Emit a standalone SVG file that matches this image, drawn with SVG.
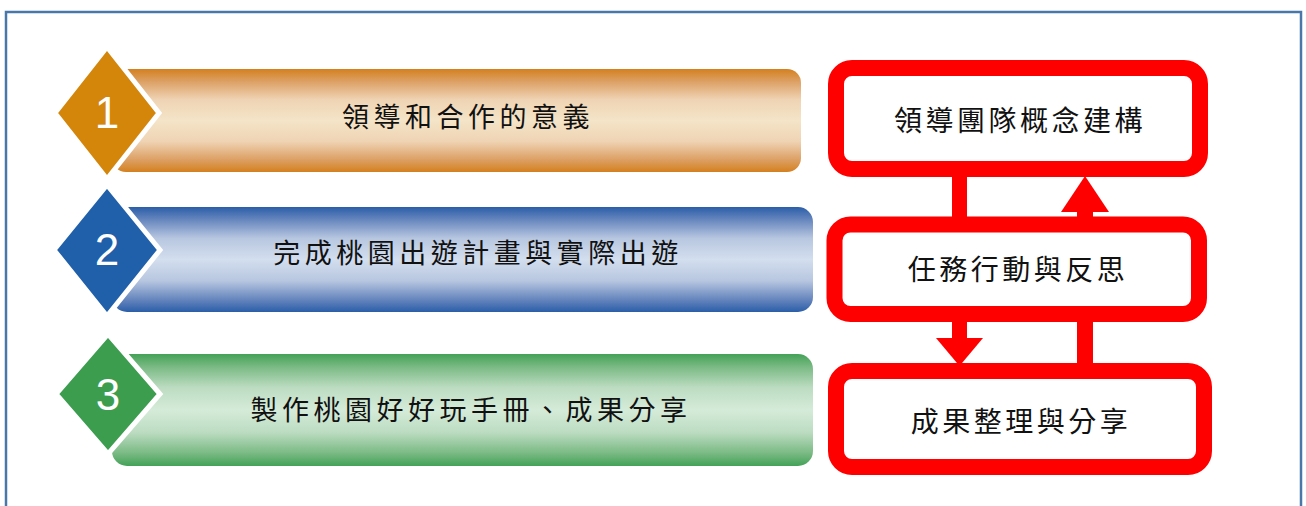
<svg xmlns="http://www.w3.org/2000/svg" width="1306" height="506" viewBox="0 0 1306 506">
<defs>
<linearGradient id="gO" x1="0" y1="0" x2="0" y2="1">
<stop offset="0" stop-color="#d4801f"/><stop offset="0.12" stop-color="#dca064"/><stop offset="0.3" stop-color="#efd4b4"/><stop offset="0.5" stop-color="#f4e4c8"/><stop offset="0.7" stop-color="#efd4b4"/><stop offset="0.88" stop-color="#dca064"/><stop offset="1" stop-color="#d4801f"/>
</linearGradient>
<linearGradient id="gB" x1="0" y1="0" x2="0" y2="1">
<stop offset="0" stop-color="#2a5ea8"/><stop offset="0.12" stop-color="#6686bd"/><stop offset="0.3" stop-color="#b8c7e0"/><stop offset="0.5" stop-color="#d3deee"/><stop offset="0.7" stop-color="#b8c7e0"/><stop offset="0.88" stop-color="#6686bd"/><stop offset="1" stop-color="#2a5ea8"/>
</linearGradient>
<linearGradient id="gG" x1="0" y1="0" x2="0" y2="1">
<stop offset="0" stop-color="#43a257"/><stop offset="0.12" stop-color="#7cbb86"/><stop offset="0.3" stop-color="#bcdcc1"/><stop offset="0.5" stop-color="#d5ebd9"/><stop offset="0.7" stop-color="#bcdcc1"/><stop offset="0.88" stop-color="#7cbb86"/><stop offset="1" stop-color="#43a257"/>
</linearGradient>
</defs>
<style>
.bar-t{font-family:"Noto Sans CJK TC","Noto Sans CJK SC",sans-serif;font-size:27px;fill:#111;letter-spacing:4.5px;text-anchor:middle}
.box-t{font-family:"Noto Sans CJK TC","Noto Sans CJK SC",sans-serif;font-size:28px;fill:#111;letter-spacing:3.5px;text-anchor:middle}
.num{font-family:"Liberation Sans",Arial,sans-serif;font-size:44px;fill:#fff;text-anchor:middle}
.dia{stroke:#fff;stroke-width:5;stroke-linejoin:miter}
.rbox{fill:#fff;stroke:#ff0000;stroke-width:16}
.red{fill:#ff0000}
</style>
<rect x="6" y="12" width="1295" height="520" fill="#fff" stroke="#4a77aa" stroke-width="2.5"/>

<g id="step1">
<rect x="112" y="69" width="689" height="103" rx="14" fill="url(#gO)"/>
<polygon class="dia" points="107,47 159,113 107,179 55,113" fill="#d4860b"/>
<text class="num" x="107" y="128">1</text>
<text class="bar-t" x="468" y="127">領導和合作的意義</text>
</g>
<g id="step2">
<rect x="112" y="207" width="701" height="105" rx="15" fill="url(#gB)"/>
<polygon class="dia" points="107,185 160,250 107,316 54,250" fill="#2060aa"/>
<text class="num" x="107" y="265">2</text>
<text class="bar-t" x="478" y="263">完成桃園出遊計畫與實際出遊</text>
</g>
<g id="step3">
<rect x="112" y="354" width="701" height="112" rx="15" fill="url(#gG)"/>
<polygon class="dia" points="108,334 160,394 108,454 56,394" fill="#3c9d4f"/>
<text class="num" x="108" y="410">3</text>
<text class="bar-t" x="471" y="420">製作桃園好好玩手冊、成果分享</text>
</g>

<g id="connectors">
<rect class="red" x="952" y="170" width="15" height="56"/>
<rect class="red" x="1077" y="205" width="16" height="21"/>
<polygon class="red" points="1061,212 1109,212 1085,176"/>
<rect class="red" x="952" y="312" width="15" height="28"/>
<polygon class="red" points="936,338 983,338 959.5,366"/>
<rect class="red" x="1077" y="312" width="16" height="60"/>
</g>

<g id="box1">
<rect class="rbox" x="836" y="68" width="364" height="101" rx="16"/>
<text class="box-t" x="1020" y="131">領導團隊概念建構</text>
</g>
<g id="box2">
<rect class="rbox" x="834.5" y="224.5" width="364.5" height="89.5" rx="16"/>
<text class="box-t" x="1018" y="280">任務行動與反思</text>
</g>
<g id="box3">
<rect class="rbox" x="836" y="371" width="368" height="96" rx="16"/>
<text class="box-t" x="1021" y="432">成果整理與分享</text>
</g>
</svg>
